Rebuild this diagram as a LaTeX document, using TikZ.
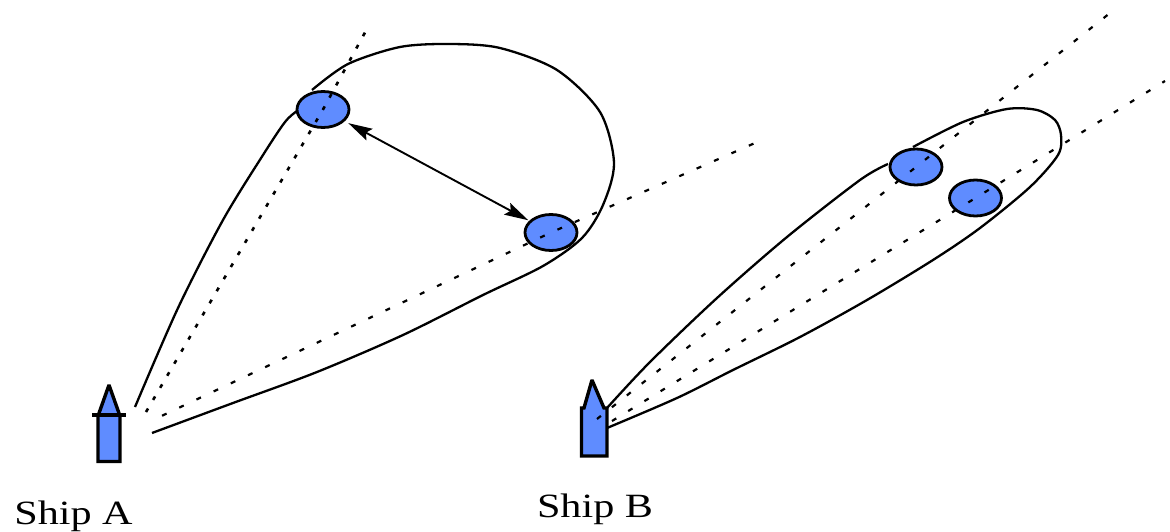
\documentclass[tikz,border=0pt]{standalone}
\usepackage{fontspec}
\setmainfont{Liberation Serif}
\usetikzlibrary{shapes.geometric,arrows.meta}
\definecolor{shipblue}{RGB}{95,140,255}
\tikzset{
  target/.style={draw=black,fill=shipblue,ellipse,line width=2.8pt,inner sep=0pt,minimum width=52pt,minimum height=36pt},
  lobe/.style={draw=black,line width=2.3pt,line join=round},
  beam/.style={draw=black,line width=2.2pt,dash pattern=on 5pt off 14pt},
  beamdense/.style={draw=black,line width=2.6pt,dash pattern=on 4pt off 10pt},
  shipbody/.style={draw=black,fill=shipblue,line width=3.4pt,miter limit=2},
  bearing/.style={draw=black,line width=1.9pt,{Stealth[length=24pt,width=13pt,inset=4pt]}-{Stealth[length=24pt,width=13pt,inset=4pt]}},
  shiplabel/.style={inner sep=0pt,anchor=base,xscale=1.24,transform shape,font=\fontsize{34}{34}\selectfont}
}
\begin{document}
\begin{tikzpicture}[x=1pt,y=-1pt]
\useasboundingbox (0,0) rectangle (1170,532);
\fill[white] (0,0) rectangle (1170,532);
% Ship A
\draw[shipbody] (98,416) -- (109,385) -- (120,416) -- (120,461.5) -- (98,461.5) -- cycle;
\draw[line width=3.4pt] (92,415) -- (126,415);
\node[shiplabel] (labelA) at (73.5,524) {Ship A};
% Ship B
\draw[shipbody] (581.5,408) -- (584,408) -- (592,380) -- (604,408) -- (607,408) -- (607,456) -- (581.5,456) -- cycle;
\node[shiplabel] (labelB) at (595,517) {Ship B};
% Targets
\node[target] (e1) at (323,109.5) {};
\node[target] (e2) at (551,232.5) {};
\node[target] (e3) at (916,167) {};
\node[target] (e4) at (975.5,198) {};
% Beams
\coordinate (a0) at (146,412); \coordinate (a1) at (368,27);
\coordinate (a2) at (153,420); \coordinate (a3) at (755,143);
\coordinate (b0) at (597,419); \coordinate (b1) at (1110,13);
\coordinate (b2) at (612,421); \coordinate (b3) at (1165,81);
\draw[beamdense] (a0) -- (e1.center) -- (a1);
\draw[beam,dash phase=9pt] (a2) -- (e2.center) -- (a3);
\draw[beam] (b0) -- (e3.center) -- (b1);
\draw[beam] (b2) -- (e4.center) -- (b3);
% Lobes
\draw[lobe] plot[smooth,tension=0.5] coordinates {(135,407) (178,308) (223,220) (263,155) (285,122) (297,111)};
\draw[lobe] plot[smooth,tension=0.5] coordinates {(312,90) (348,64) (400,47) (450,44) (500,48) (557,70) (600,112) (614,163) (603,205) (582,238) (543,266) (483,295) (403,335) (317,372) (233,403) (152,433)};
\draw[lobe] plot[smooth,tension=0.5] coordinates {(607,408) (650,362) (717,298) (787,237) (860,180) (888,164)};
\draw[lobe] plot[smooth,tension=0.5] coordinates {(913,147) (963,122) (1007,109) (1037,110) (1055,120) (1061,135) (1058,155) (1030,187) (980,228) (933,260) (867,300) (800,337) (733,370) (677,398) (607,428)};
% Range arrow
\draw[bearing,shorten <=4pt,shorten >=1pt] (e1) -- (e2);
\end{tikzpicture}
\end{document}
